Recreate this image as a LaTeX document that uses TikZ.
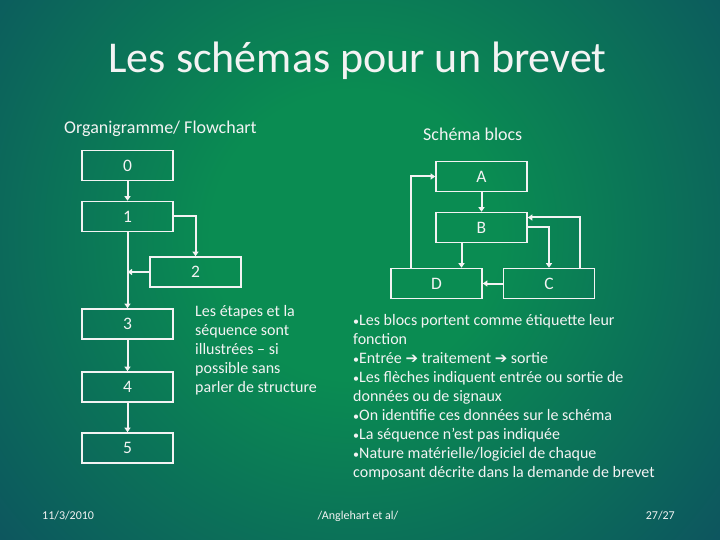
\documentclass[tikz,border=0pt]{standalone}
\usepackage{fontspec}
\setmainfont{Carlito}
\newfontfamily\dejavu{DejaVu Sans}
\usetikzlibrary{arrows.meta}
\definecolor{bggreen}{RGB}{10,140,82}
\definecolor{bgblue}{RGB}{15,42,105}
\definecolor{fg}{RGB}{243,243,243}
\pgfdeclareradialshading{slidebg}{\pgfpoint{0bp}{0bp}}{color(0bp)=(bggreen); color(8bp)=(bggreen); color(41bp)=(bgblue); color(50bp)=(bgblue)}
\newcommand{\bul}{{\fontsize{12}{19.2}\selectfont •}}
\newcommand{\harrow}{{\dejavu\fontsize{15}{19.2}\selectfont ➔}}
\begin{document}
\begin{tikzpicture}[x=1pt,y=-1pt,
  box/.style={draw=fg, line width=1.6pt, minimum width=91pt, minimum height=30pt, inner sep=0pt, text=fg, font=\fontsize{17.5}{20}\selectfont},
  link/.style={draw=fg, line width=2pt, -{Triangle[length=4.5pt,width=6pt]}},
  txt/.style={inner sep=0pt, text=fg}]
\useasboundingbox (0,0) rectangle (720,540);
\begin{scope}
  \clip (0,0) rectangle (720,540);
  \shade[shading=slidebg] (-95,-215) rectangle (805,685);
\end{scope}

% titles
\node[txt, anchor=base, font=\fontsize{44}{52}\selectfont] (title) at (357.5,73) {Les schémas pour un brevet};
\node[txt, anchor=base west, font=\fontsize{18}{22}\selectfont] (orgtitle) at (64,134) {Organigramme/ Flowchart};
\node[txt, anchor=base west, font=\fontsize{18}{22}\selectfont] (blktitle) at (423,141) {Schéma blocs};

% flowchart
\node[box] (n0) at (127.5,165.5) {0};
\node[box] (n1) at (127.5,216.5) {1};
\node[box] (n2) at (195.5,272) {2};
\node[box] (n3) at (127.5,324) {3};
\node[box] (n4) at (127.5,387) {4};
\node[box] (n5) at (127.5,448) {5};
\draw[link] (n0.south) -- (n1.north);
\draw[link] (n1.east) -| (n2.north);
\draw[link] (n1.south) -- (n3.north);
\draw[link] (n2.west) -- (n2.west -| n1.south);
\draw[link] (n3.south) -- (n4.north);
\draw[link] (n4.south) -- (n5.north);

% block diagram
\node[box] (A) at (481.5,176.5) {A};
\node[box] (B) at (481.5,227.5) {B};
\node[box] (D) at (436.5,283.5) {D};
\node[box] (C) at (549,283.5) {C};
\draw[link] (A.south) -- (B.north);
\draw[link] ([xshift=-20pt]B.south) -- ([xshift=-20pt]B.south |- D.north);
\draw[link] (B.east) -| (C.north);
\draw[link] ([xshift=31pt]C.north) |- ([yshift=10pt]B.east);
\draw[link] (C.west) -- (D.east);
\draw[link] ([xshift=-25.5pt]D.north) |- (A.west);

% texts
\node[txt, anchor=base west] (steps) at (195,316) {\parbox[t]{150pt}{\fontsize{16}{19.2}\selectfont\raggedright
Les étapes et la\\
séquence sont\\
illustrées – si\\
possible sans\\
parler de structure}};

\node[txt, anchor=base west] (bullets) at (353,325) {\parbox[t]{330pt}{\fontsize{16}{19.1}\selectfont\raggedright
\bul Les blocs portent comme étiquette leur\\
fonction\\
\bul Entrée \harrow{} traitement \harrow{} sortie\\
\bul Les flèches indiquent entrée ou sortie de\\
données ou de signaux\\
\bul On identifie ces données sur le schéma\\
\bul La séquence n’est pas indiquée\\
\bul Nature matérielle/logiciel de chaque\\
composant décrite dans la demande de brevet}};

% footer
\node[txt, anchor=base west, font=\fontsize{12}{14}\selectfont] (date) at (42,519) {11/3/2010};
\node[txt, anchor=base, font=\fontsize{12}{14}\selectfont] (author) at (358,519) {/Anglehart et al/};
\node[txt, anchor=base east, font=\fontsize{12}{14}\selectfont] (page) at (675,519) {27/27};
\end{tikzpicture}
\end{document}
